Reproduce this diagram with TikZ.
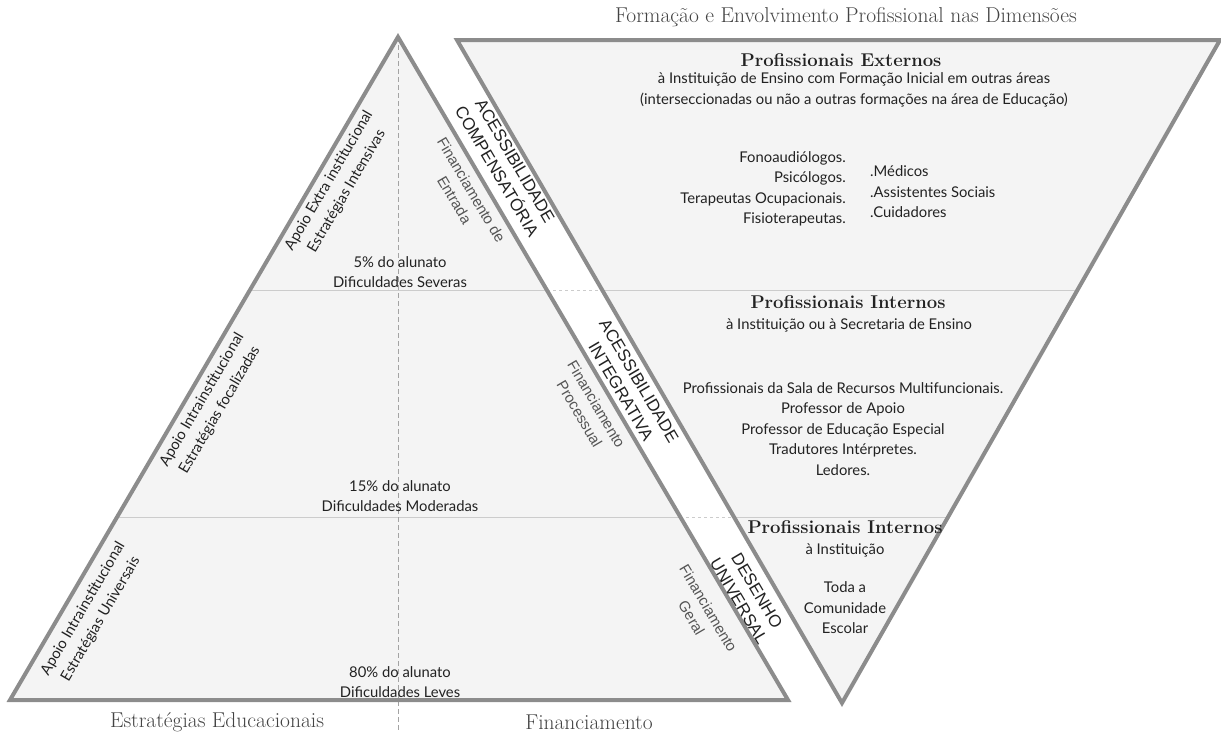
\documentclass[tikz,border=0pt]{standalone}
\usepackage{fontspec}
\newfontfamily\gill{Lato}
\newfontfamily\arial{Liberation Sans}
\definecolor{edge}{HTML}{8C8C8C}
\definecolor{area}{HTML}{F4F4F4}
\definecolor{rule}{HTML}{CCCCCC}
\definecolor{ink}{HTML}{222222}
\definecolor{grey}{HTML}{555555}

\tikzset{
tri/.style={draw=edge,line width=4pt,line join=miter},
sep/.style={draw=rule,line width=0.8pt},
sans/.style={font=\gill\fontsize{14.8}{20.5}\selectfont,text=ink,align=center,inner sep=0pt},
head/.style={font=\bfseries\fontsize{18.5}{20}\selectfont,text=ink,inner sep=0pt},
serif/.style={font=\fontsize{21.5}{24}\selectfont,text=ink!85,inner sep=0pt},
bandcap/.style={font=\arial\fontsize{17}{21}\selectfont,text=ink,align=center,inner sep=0pt,rotate=-59.5},
fund/.style={font=\arial\fontsize{15}{19.5}\selectfont,text=grey,align=center,inner sep=0pt,rotate=-59.5}
}

\begin{document}
\begin{tikzpicture}[x=1pt,y=-1pt]

\useasboundingbox (0,0) rectangle (1221,731);

% corners
\coordinate (U) at (398,37);
\coordinate (L) at (10,700);
\coordinate (R) at (788,700);

\coordinate (DL) at (457,40);
\coordinate (DR) at (1220,40);
\coordinate (DB) at (842,703);

%color

\fill[area] (U) -- (L) -- (R) -- cycle;
\fill[area] (DL) -- (DR) -- (DB) -- cycle;

%lines

\draw[sep] (250,290) -- (547,290);
\draw[sep,dash pattern=on 3pt off 3pt] (547,290) -- (602,290);
\draw[sep] (602,290) -- (1077,290);

\draw[sep] (117,517) -- (680,517);
\draw[sep,dash pattern=on 3pt off 3pt] (680,517) -- (734,517);
\draw[sep] (734,517) -- (948,517);

\draw[draw=edge!80,line width=0.8pt,dash pattern=on 5pt off 3pt] (U) -- (398,731);

% triangles
\draw[tri] (U) -- (L) -- (R) -- cycle;
\draw[tri] (DL) -- (DR) -- (DB) -- cycle;

% left side
\node[sans,rotate=59.6] (extra) at (338,186) {Apoio Extra institucional\\Estratégias Intensivas};
\node[sans,rotate=59.6] (focal) at (211,405) {Apoio Intrainstitucional\\Estratégias focalizadas};
\node[sans,rotate=59.6] (unive) at (92,614) {Apoio Intrainstitucional\\Estratégias Universais};

% alunato
\node[sans] (sev) at (400,272) {5\% do alunato\\Dificuldades Severas};
\node[sans] (mod) at (400,496) {15\% do alunato\\Dificuldades Moderadas};
\node[sans] (lev) at (400,682) {80\% do alunato\\Dificuldades Leves};

% band
\node[bandcap] (comp) at (506,166) {ACESSIBILIDADE\\COMPENSATÓRIA};
\node[fund] (fent) at (463,195) {Financiamento de\\Entrada};
\node[bandcap] (integ) at (630,386) {ACESSIBILIDADE\\INTEGRATIVA};
\node[fund] (fproc) at (588,409) {Financiamento\\Processual};
\node[bandcap] (desuni) at (748,596) {DESENHO\\UNIVERSAL};
\node[fund] (fger) at (700,613) {Financiamento\\Geral};

% profissionais
\node[head] (pext) at (841,60) {Profissionais Externos};
\node[sans] (pextsub) at (854,90) {à Instituição de Ensino com Formação Inicial em outras áreas\\(interseccionadas ou não a outras formações na área de Educação)};
\node[sans,anchor=east,align=right] (pextl) at (846,189) {Fonoaudiólogos.\\Psicólogos.\\Terapeutas Ocupacionais.\\Fisioterapeutas.};
\node[sans,anchor=west,align=left] (pextr) at (870,192) {.Médicos\\.Assistentes Sociais\\.Cuidadores};

\node[head] (pint) at (848,302) {Profissionais Internos};
\node[sans] (pintsub) at (849,325) {à Instituição ou à Secretaria de Ensino};
\node[sans] (pintl) at (843,429) {Profissionais da Sala de Recursos Multifuncionais.\\Professor de Apoio\\Professor de Educação Especial\\Tradutores Intérpretes.\\Ledores.};

\node[head] (pesc) at (845,527) {Profissionais Internos};
\node[sans] (pescsub) at (845,550) {à Instituição};
\node[sans] (pescl) at (845,608) {Toda a\\Comunidade\\Escolar};

% titles
\node[serif] (title) at (846,17) {Formação e Envolvimento Profissional nas Dimensões};
\node[serif] (edu) at (217,722) {Estratégias Educacionais};
\node[serif] (finan) at (589,722) {Financiamento};
\end{tikzpicture}
\end{document}
